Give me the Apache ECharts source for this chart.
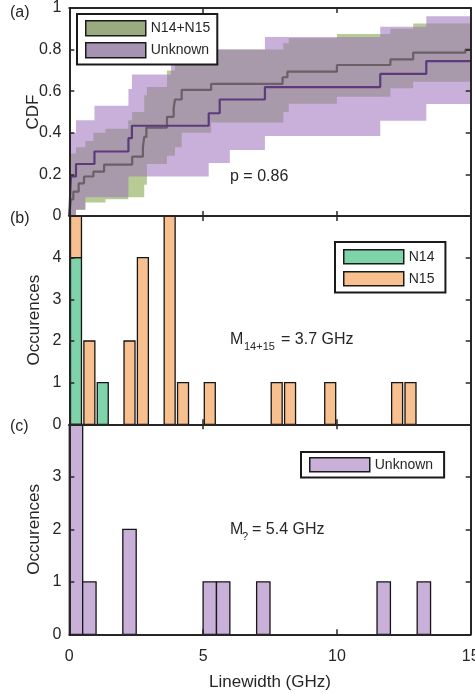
<!DOCTYPE html>
<html><head><meta charset="utf-8">
<script src="https://cdn.jsdelivr.net/npm/echarts/dist/echarts.min.js"></script>
<style>html,body{margin:0;padding:0;background:#fff}#c{width:475px;height:694px}</style>
</head><body><div id="c"></div>
<script>
// ---- (a) CDF step lines: [GHz] and CDF value held from that x onward ----
const cdfN1415X = [0, 0.06, 0.15, 0.35, 0.55, 0.9, 1.3, 2.35, 2.75, 2.8, 2.88, 3.65, 3.9, 3.95, 4.2, 5.3, 7.97, 8.15, 10.0, 12.0, 12.85, 14.8, 15];
const cdfN1415Y = [0, 0.08, 0.117, 0.157, 0.19, 0.213, 0.247, 0.285, 0.33, 0.38, 0.425, 0.477, 0.52, 0.56, 0.606, 0.635, 0.667, 0.694, 0.726, 0.753, 0.785, 0.8, 0.8];
const cdfUnkX = [0, 0.06, 0.25, 0.94, 2.21, 2.34, 5.21, 5.62, 7.31, 11.62, 13.34, 15];
const cdfUnkY = [0, 0.19, 0.25, 0.31, 0.374, 0.434, 0.494, 0.56, 0.62, 0.683, 0.745, 0.745];

// ---- (a) confidence bands: segment edges, lower and upper per segment ----
const bandN1415X  = [0, 0.06, 0.25, 0.6, 0.9, 1.35, 2.2, 2.35, 2.8, 2.9, 3.65, 3.95, 4.2, 5.3, 8.0, 8.2, 10.0, 12.0, 12.85, 15];
const bandN1415Lo = [0, 0, 0.03, 0.065, 0.065, 0.08, 0.09, 0.09, 0.15, 0.25, 0.29, 0.33, 0.40, 0.45, 0.50, 0.54, 0.573, 0.614, 0.646];
const bandN1415Hi = [0.22, 0.30, 0.33, 0.36, 0.40, 0.42, 0.46, 0.50, 0.58, 0.62, 0.70, 0.73, 0.73, 0.80, 0.83, 0.855, 0.875, 0.90, 0.925];
const bandUnkX  = [0, 0.06, 0.25, 0.6, 0.94, 2.21, 2.34, 3.8, 5.21, 6.0, 7.31, 11.62, 13.34, 15];
const bandUnkLo = [0, 0, 0.03, 0.09, 0.09, 0.19, 0.19, 0.19, 0.255, 0.317, 0.385, 0.458, 0.538];
const bandUnkHi = [0.37, 0.40, 0.46, 0.46, 0.53, 0.61, 0.68, 0.80, 0.80, 0.80, 0.86, 0.91, 0.96];

// ---- (b), (c) histograms (bin start in GHz, count) ----
const binWidth = 0.5;
const n14BinStart = [0, 1.0];
const n14Count    = [4, 1];
const n15BinStart = [0, 0.5, 2.0, 2.5, 3.5, 4.0, 5.0, 7.5, 8.0, 9.5, 12.0, 12.5];
const n15Count    = [1, 2, 2, 4, 5, 1, 1, 1, 1, 1, 1, 1];
const unkBinStart = [0, 0.5, 2.0, 5.0, 5.5, 7.0, 11.5, 13.0];
const unkCount    = [4, 1, 2, 1, 1, 1, 1, 1];

// ---- tick labels ----
const xTickLabels = {0: '0', 5: '5', 10: '10', 15: '15'};
const cdfTickLabels = ['0', '0.2', '0.4', '0.6', '0.8', '1'];
const occBTickLabels = ['0', '1', '2', '3', '4', ''];
const occCTickLabels = ['0', '1', '2', '3', ''];

const FONT = '"Liberation Sans", Arial, Helvetica, sans-serif';
const INK = '#262626';

const zip = (xs, ys) => xs.map((x, i) => [x, ys[i]]);
const segs = (xs, lo, hi) => lo.map((l, i) => [xs[i], xs[i + 1], l, hi[i]]);

function bandRender(fill) {
  return function (params, api) {
    if (params.dataIndexInside !== 0) return null;
    const n = params.dataInsideLength;
    const pts = [];
    for (let i = 0; i < n; i++) {
      pts.push(api.coord([api.value(0, i), api.value(3, i)]));
      pts.push(api.coord([api.value(1, i), api.value(3, i)]));
    }
    for (let i = n - 1; i >= 0; i--) {
      pts.push(api.coord([api.value(1, i), api.value(2, i)]));
      pts.push(api.coord([api.value(0, i), api.value(2, i)]));
    }
    return {type: 'polygon', shape: {points: pts}, style: {fill: fill}};
  };
}

function histRender(frac, fill) {
  return function (params, api) {
    const s = api.value(0), base = api.value(1), top = api.value(2);
    const c = s + binWidth / 2, hw = binWidth * frac / 2;
    const p0 = api.coord([c - hw, top]);
    const p1 = api.coord([c + hw, base]);
    return {type: 'rect', shape: {x: p0[0], y: p0[1], width: p1[0] - p0[0], height: p1[1] - p0[1]},
      style: {fill: fill, stroke: '#161616', lineWidth: 1.3}};
  };
}

const n14Data = n14BinStart.map((s, i) => [s, 0, n14Count[i]]);
const n15Data = n15BinStart.map((s, i) => {
  const j = n14BinStart.indexOf(s);
  const base = j >= 0 ? n14Count[j] : 0;
  return [s, base, base + n15Count[i]];
});
const unkData = unkBinStart.map((s, i) => [s, 0, unkCount[i]]);

const L = 69.3, W = 401.4;
const gridBase = {left: L, width: W, containLabel: false, outerBoundsMode: 'none'};
const grids = [
  Object.assign({}, gridBase, {top: 8, height: 208}),
  Object.assign({}, gridBase, {top: 216, height: 208.3}),
  Object.assign({}, gridBase, {top: 424.3, height: 210})
];

function xAx(g, pos, labels) {
  return {type: 'value', gridIndex: g, position: pos, min: 0, max: 15, interval: 5, z: 10,
    axisLine: {show: true, onZero: false, lineStyle: {color: INK, width: 2}},
    axisTick: {show: true, inside: true, length: 5, lineStyle: {color: INK, width: 1.5}},
    axisLabel: {show: labels, margin: 14, fontSize: 16, fontFamily: FONT, color: INK,
      hideOverlap: false, showMaxLabel: true, showMinLabel: true,
      formatter: v => xTickLabels[v] !== undefined ? xTickLabels[v] : ''},
    splitLine: {show: false},
    name: labels ? 'Linewidth (GHz)' : '', nameLocation: 'middle', nameGap: 40, nameMoveOverlap: false,
    nameTextStyle: {fontSize: 17, fontFamily: FONT, color: INK}};
}
function yAx(g, pos, max, interval, labels, name, gap) {
  return {type: 'value', gridIndex: g, position: pos, min: 0, max: max, interval: interval, z: 10,
    axisLine: {show: true, onZero: false, lineStyle: {color: INK, width: 2}},
    axisTick: {show: true, inside: true, length: 5, lineStyle: {color: INK, width: 1.5}},
    axisLabel: {show: !!labels, margin: 8, fontSize: 16, fontFamily: FONT, color: INK,
      hideOverlap: false, showMaxLabel: true, showMinLabel: true,
      formatter: v => labels ? labels[Math.round(v / interval)] : ''},
    splitLine: {show: false},
    name: name || '', nameLocation: 'middle', nameGap: gap || 27, nameMoveOverlap: false,
    nameTextStyle: {fontSize: 17, fontFamily: FONT, color: INK}};
}

const legendBase = {orient: 'vertical', itemGap: 5.5, itemHeight: 15, itemWidth: 60,
  borderColor: '#1a1a1a', borderWidth: 2, backgroundColor: '#fff', selectedMode: false,
  textStyle: {fontSize: 14, fontFamily: FONT, color: INK}, icon: 'rect'};
const sw = c => ({color: c, borderColor: '#1a1a1a', borderWidth: 1.5});

const txt = (x, y, t, fs) => ({type: 'text', x: x, y: y, z: 100,
  style: {text: t, fontSize: fs, fontFamily: FONT, fill: INK, verticalAlign: 'middle'}});

const option = {
  animation: false,
  grid: grids,
  xAxis: [xAx(0, 'bottom', false), xAx(1, 'bottom', false), xAx(2, 'bottom', true),
          xAx(0, 'top', false), xAx(1, 'top', false), xAx(2, 'top', false)],
  yAxis: [yAx(0, 'left', 1, 0.2, cdfTickLabels, 'CDF', 27),
          yAx(1, 'left', 5, 1, occBTickLabels, 'Occurences', 26),
          yAx(2, 'left', 4, 1, occCTickLabels, 'Occurences', 26),
          yAx(0, 'right', 1, 0.2, null), yAx(1, 'right', 5, 1, null), yAx(2, 'right', 4, 1, null)],
  legend: [
    Object.assign({}, legendBase, {left: 77, top: 14, padding: [6, 7, 6, 8],
      data: [{name: 'N14+N15', itemStyle: sw('#9aab80')}, {name: 'Unknown', itemStyle: sw('#a692b2')}]}),
    Object.assign({}, legendBase, {left: 335, top: 242, itemHeight: 14, itemGap: 6.5, padding: [7, 11, 6, 8],
      data: [{name: 'N14', itemStyle: sw('#7fd3a9')}, {name: 'N15', itemStyle: sw('#f8c08f')}]}),
    Object.assign({}, legendBase, {left: 301, top: 452, itemHeight: 14, padding: [5, 11, 5, 8],
      data: [{name: 'Unknown', itemStyle: sw('#c8b0d8')}]})
  ],
  graphic: [
    txt(10, 13, '(a)', 16), txt(10, 219, '(b)', 16), txt(10, 427, '(c)', 16),
    txt(230, 177, 'p = 0.86', 16),
    txt(230, 340, 'M', 16), txt(244, 347, '14+15', 11), txt(281, 340, '= 3.7 GHz', 16),
    txt(230, 530, 'M', 16), txt(242, 537, '?', 11), txt(252, 530, '= 5.4 GHz', 16)
  ],
  series: [
    {name: 'N14+N15', type: 'custom', xAxisIndex: 0, yAxisIndex: 0, renderItem: bandRender('rgba(109,153,41,0.5)'),
      itemStyle: {color: '#9aab80'}, encode: {x: [0, 1], y: [2, 3]}, data: segs(bandN1415X, bandN1415Lo, bandN1415Hi)},
    {name: 'Unknown', type: 'custom', xAxisIndex: 0, yAxisIndex: 0, renderItem: bandRender('rgba(157,114,189,0.56)'),
      itemStyle: {color: '#a692b2'}, encode: {x: [0, 1], y: [2, 3]}, data: segs(bandUnkX, bandUnkLo, bandUnkHi)},
    {name: 'cdfN1415', type: 'line', step: 'end', xAxisIndex: 0, yAxisIndex: 0, showSymbol: false, z: 5,
      lineStyle: {color: '#6c5f67', width: 2.2}, data: zip(cdfN1415X, cdfN1415Y)},
    {name: 'cdfUnk', type: 'line', step: 'end', xAxisIndex: 0, yAxisIndex: 0, showSymbol: false, z: 5,
      lineStyle: {color: '#5c3b7c', width: 2.2}, data: zip(cdfUnkX, cdfUnkY)},
    {name: 'N14', type: 'custom', xAxisIndex: 1, yAxisIndex: 1, renderItem: histRender(0.82, '#7fd3a9'),
      itemStyle: {color: '#7fd3a9'}, encode: {x: 0, y: 2}, data: n14Data},
    {name: 'N15', type: 'custom', xAxisIndex: 1, yAxisIndex: 1, renderItem: histRender(0.82, '#f8c08f'),
      itemStyle: {color: '#f8c08f'}, encode: {x: 0, y: 2}, data: n15Data},
    {name: 'Unknown', type: 'custom', xAxisIndex: 2, yAxisIndex: 2, renderItem: histRender(1.0, '#c8b0d8'),
      itemStyle: {color: '#c8b0d8'}, encode: {x: 0, y: 2}, data: unkData}
  ]
};
const chart = echarts.init(document.getElementById('c'), null, {renderer: 'canvas'});
chart.setOption(option);
</script>
</body></html>
